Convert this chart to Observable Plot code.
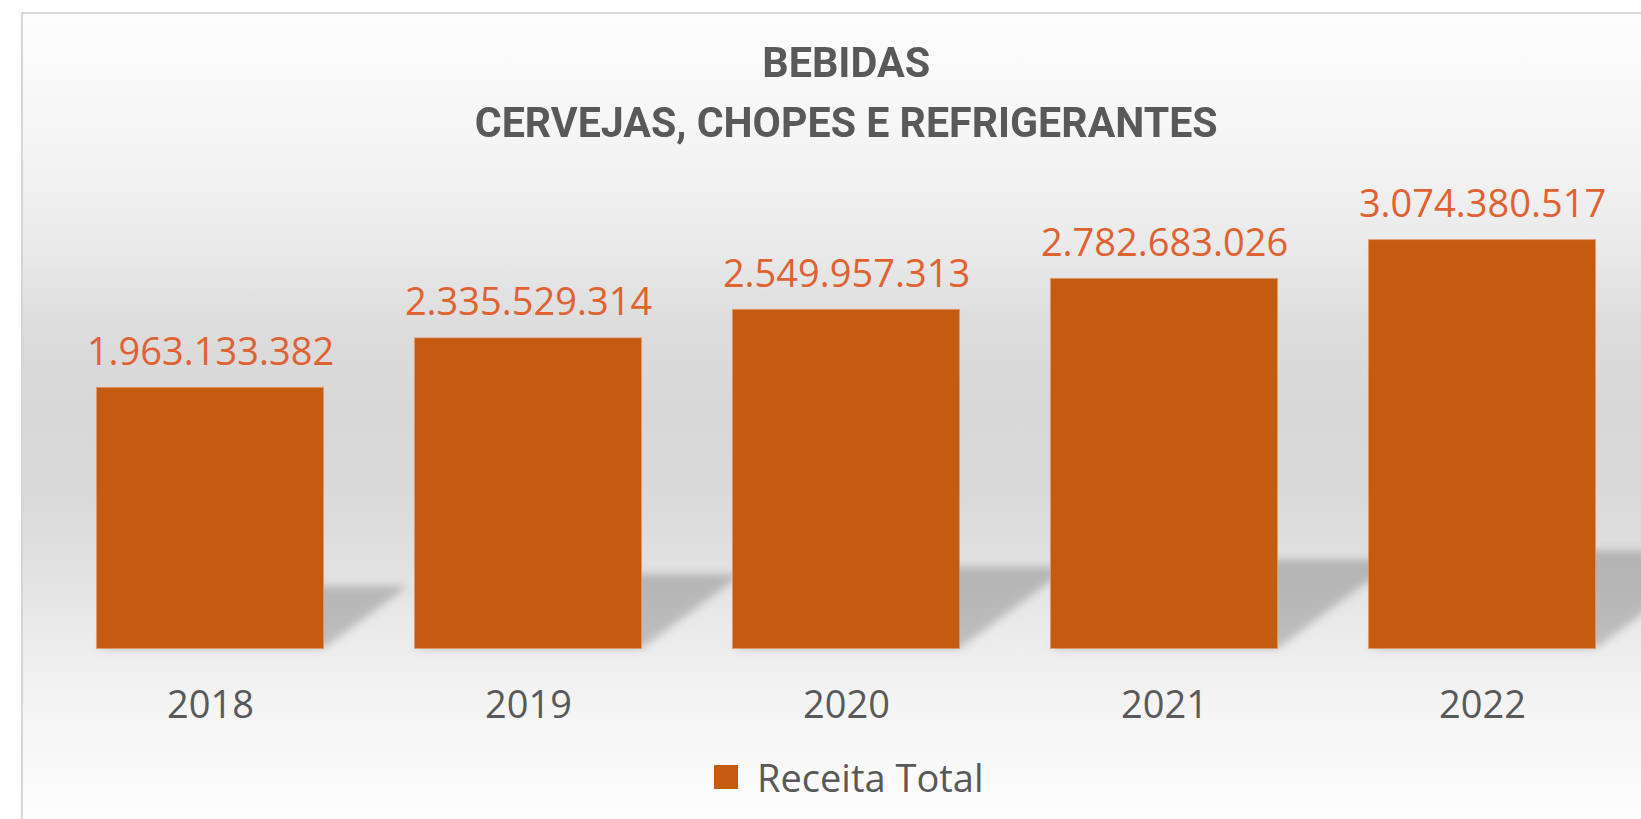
<!DOCTYPE html>
<html>
<head>
<meta charset="utf-8">
<script src="https://cdn.jsdelivr.net/npm/d3@7"></script>
<script src="https://cdn.jsdelivr.net/npm/@observablehq/plot@0.6"></script>
<style>
  html, body { margin: 0; padding: 0; background: #ffffff; }
  #wrap { position: relative; width: 1641px; height: 819px; overflow: hidden; background: #ffffff; }
  #area {
    position: absolute; left: 21px; top: 12px; width: 1660px; height: 820px;
    border-left: 2px solid #d6d6d6; border-top: 2px solid #d9d9d9;
    background: linear-gradient(to bottom,
      #fdfdfd 0px, #f4f4f4 140px, #e9e9e9 240px, #dddddd 308px,
      #d8d8d8 390px, #d9d9d9 470px, #e1e1e1 550px, #eeeeee 640px,
      #f6f6f6 710px, #fdfdfd 807px);
  }
  .title {
    position: absolute; left: 0; width: 1692px; margin: 0; text-align: center;
    font-family: Roboto, "Open Sans", sans-serif; font-weight: 700; font-size: 42px;
    line-height: 42px; color: #595959; white-space: nowrap;
  }
  .title span { display: inline-block; transform-origin: center center; }
  #chart { position: absolute; left: 0; top: 0; }
  #legend { position: absolute; left: 714px; top: 751px; }
</style>
</head>
<body>
<div id="wrap">
  <div id="area"></div>
  <h1 class="title" id="t1" style="top:42px"><span>BEBIDAS</span></h1>
  <h2 class="title" id="t2" style="top:102px"><span>CERVEJAS, CHOPES E REFRIGERANTES</span></h2>
  <div id="chart"></div>
  <div id="legend"></div>
</div>
<script>
// ---- data ----
const years = ["2018", "2019", "2020", "2021", "2022"];
const receitaTotal = [1963133382, 2335529314, 2549957313, 2782683026, 3074380517];
const seriesName = "Receita Total";

const barColor = "#C55A11";
const labelColor = "#DF6232";
const textColor = "#595959";

const data = years.map((ano, i) => ({ano, valor: receitaTotal[i]}));
const fmt = d3.formatLocale({decimal: ",", thousands: ".", grouping: [3], currency: ["R$", ""]}).format(",d");

const plot = Plot.plot({
  width: 1641,
  height: 819,
  marginLeft: 51,
  marginRight: 0,
  marginTop: 183,
  marginBottom: 170.5,
  style: {background: "transparent", fontFamily: "'Open Sans', sans-serif", overflow: "visible"},
  x: {domain: years, paddingInner: 0.286, paddingOuter: 0.143, round: false, label: null},
  y: {domain: [0, 3.5e9], axis: null},
  marks: [
    // shadow (skewed afterwards)
    Plot.barY(data, {x: "ano", y: "valor", fill: "#000000", fillOpacity: 0.2}),
    Plot.barY(data, {x: "ano", y: "valor", fill: barColor, stroke: "#e39a6c", strokeWidth: 1, strokeOpacity: 0.7}),
    Plot.text(data, {x: "ano", y: "valor", text: d => fmt(d.valor), dy: -23, lineAnchor: "bottom",
      fill: labelColor, fontSize: 38}),
    Plot.axisX({tickSize: 0, tickPadding: 42.5, fontSize: 38, color: textColor, label: null})
  ]
});

// shadow: perspective skew of the first bar layer, blurred
(function () {
  const ns = "http://www.w3.org/2000/svg";
  const y0 = plot.scale("y").apply(0);
  const s = 0.24, c = 0.324;
  const defs = document.createElementNS(ns, "defs");
  defs.innerHTML = '<filter id="shblur" x="-20%" y="-60%" width="140%" height="220%"><feGaussianBlur stdDeviation="4.5"/></filter>';
  plot.insertBefore(defs, plot.firstChild);
  const sh = plot.querySelectorAll('g[aria-label="bar"]')[0];
  const outer = document.createElementNS(ns, "g");
  outer.setAttribute("filter", "url(#shblur)");
  const inner = document.createElementNS(ns, "g");
  inner.setAttribute("transform", `matrix(1,0,${-c},${s},${c * y0},${(1 - s) * y0})`);
  sh.parentNode.insertBefore(outer, sh);
  outer.appendChild(inner);
  inner.appendChild(sh);
})();

document.getElementById("chart").appendChild(plot);

// legend
const legend = Plot.legend({
  color: {type: "categorical", domain: [seriesName], range: [barColor]},
  legend: "swatches",
  swatchSize: 24,
  style: {fontFamily: "'Open Sans', sans-serif", fontSize: "38px", color: textColor, margin: "0"}
});
document.getElementById("legend").appendChild(legend);

// fit title widths
function fit(id, target) {
  const sp = document.querySelector("#" + id + " span");
  const w = sp.getBoundingClientRect().width;
  sp.style.transform = `scaleX(${target / w})`;
}
fit("t1", 168);
fit("t2", 743);
</script>
</body>
</html>
